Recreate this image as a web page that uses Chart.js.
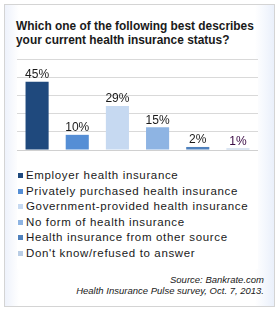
<!DOCTYPE html>
<html>
<head>
<meta charset="utf-8">
<script src="https://cdn.jsdelivr.net/npm/chart.js@4"></script>
<style>
  body { margin: 0; background: #fff; font-family: Arial, "Liberation Sans", sans-serif; }
  #frame {
    position: absolute; left: 4px; top: 4px; width: 269px; height: 301px;
    border: 1px solid #d4d4d4;
    background: linear-gradient(to right, #eef2fb 0px, #ffffff 14px, #ffffff 250px, #eaf0fb 269px);
  }
  #title {
    position: absolute; left: 16px; top: 19px; width: 260px; white-space: nowrap;
    font-weight: bold; font-size: 11.9px; line-height: 14px; color: #1a1a1a;
  }
  #plotbg { position: absolute; left: 17px; top: 59px; width: 241px; height: 210px; background: #fff; }
  #wrap { position: absolute; left: 17px; top: 50px; width: 241px; height: 104px; }
  #legend { position: absolute; left: 18px; top: 168px; font-size: 11.5px; letter-spacing: 0.65px; color: #1a1a1a; }
  .item { height: 15.5px; line-height: 15.5px; white-space: nowrap; }
  .box { display: inline-block; width: 5px; height: 5px; margin-right: 3px; vertical-align: 1px; }
  #source {
    position: absolute; right: 14px; top: 274px; text-align: right; white-space: nowrap;
    font-style: italic; font-size: 9.5px; line-height: 11px; color: #1a1a1a;
  }
</style>
</head>
<body>
<div id="frame"></div>
<div id="plotbg"></div>
<div id="title">Which one of the following best describes<br>your current health insurance status?</div>
<div id="wrap"><canvas id="bars"></canvas></div>
<div id="legend"></div>
<div id="source">Source: Bankrate.com<br>Health Insurance Pulse survey, Oct. 7, 2013.</div>
<script>
const categories = [
  'Employer health insurance',
  'Privately purchased health insurance',
  'Government-provided health insurance',
  'No form of health insurance',
  'Health insurance from other source',
  "Don't know/refused to answer"
];
const values = [45, 10, 29, 15, 2, 1];
const valueLabels = ['45%', '10%', '29%', '15%', '2%', '1%'];
const barColors = ['#1f497d', '#558ed5', '#c6d9f1', '#8eb4e3', '#4f81bd', '#b9cde5'];

// legend
const legend = document.getElementById('legend');
categories.forEach((c, i) => {
  const row = document.createElement('div');
  row.className = 'item';
  row.innerHTML = '<span class="box" style="background:' + barColors[i] + '"></span>' + c;
  legend.appendChild(row);
});

// value labels above bars
const topLabels = {
  id: 'topLabels',
  afterDatasetsDraw(chart) {
    const c = chart.ctx;
    const meta = chart.getDatasetMeta(0);
    c.save();
    c.font = '12px Arial, "Liberation Sans", sans-serif';
    c.textAlign = 'center';
    c.textBaseline = 'bottom';
    meta.data.forEach((bar, i) => {
      c.fillStyle = i === 5 ? '#3a0a44' : '#1a1a1a';
      c.fillText(valueLabels[i], bar.x, bar.y - 1);
    });
    c.restore();
  }
};

const ctx = document.getElementById('bars').getContext('2d');
new Chart(ctx, {
  type: 'bar',
  data: {
    labels: categories,
    datasets: [{
      data: values,
      backgroundColor: barColors,
      categoryPercentage: 1,
      barPercentage: 0.575
    }]
  },
  options: {
    responsive: true,
    maintainAspectRatio: false,
    animation: false,
    layout: { padding: { top: 9, bottom: 4, left: 0, right: 0 } },
    plugins: {
      legend: { display: false },
      tooltip: { enabled: false }
    },
    scales: {
      x: {
        ticks: { display: false },
        grid: { display: false, drawTicks: false },
        border: { color: '#d0d0d0', width: 1 }
      },
      y: {
        min: 0,
        max: 60,
        ticks: { display: false, stepSize: 12 },
        grid: { color: '#d9d9d9', drawTicks: false },
        border: { display: false }
      }
    }
  },
  plugins: [topLabels]
});
</script>
</body>
</html>
